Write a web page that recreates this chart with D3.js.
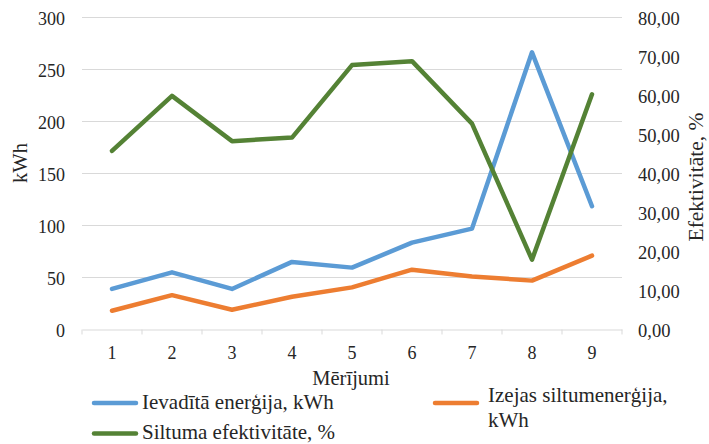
<!DOCTYPE html>
<html>
<head>
<meta charset="utf-8">
<script src="https://cdn.jsdelivr.net/npm/d3@7"></script>
<style>
  body { margin: 0; background: #fff; }
  svg text { font-family: "Liberation Serif", "Times New Roman", Times, "DejaVu Serif", serif !important; fill: #262626; }
</style>
</head>
<body>
<svg id="chart" width="709" height="444"></svg>
<script>
// data
const categories = ["1", "2", "3", "4", "5", "6", "7", "8", "9"];
const inputEnergy = [39, 55, 39, 65, 59.5, 83.5, 97, 266.5, 118.5];
const outputHeat = [18, 33, 19, 31.5, 40.5, 57.5, 51, 47, 71];
const efficiency = [45.8, 59.9, 48.3, 49.2, 67.8, 68.8, 52.8, 17.9, 60.3];

const leftTicks = [0, 50, 100, 150, 200, 250, 300];
const rightTicks = [0, 10, 20, 30, 40, 50, 60, 70, 80];

const seriesNames = ["Ievadītā enerģija, kWh", "Izejas siltumenerģija, kWh", "Siltuma efektivitāte, %"];
const colors = ["#5b9bd5", "#ed7d31", "#548235"];

// plot area
const plotLeft = 82, plotRight = 622, plotTop = 17.5, plotBottom = 329.5;

const svg = d3.select("#chart");

const x = d3.scaleBand().domain(categories).range([plotLeft, plotRight]);
const yL = d3.scaleLinear().domain([0, 300]).range([plotBottom, plotTop]);
const yR = d3.scaleLinear().domain([0, 80]).range([plotBottom, plotTop]);

// gridlines
svg.append("g")
    .selectAll("line")
    .data(leftTicks.slice(1))
    .join("line")
      .attr("x1", plotLeft).attr("x2", plotRight)
      .attr("y1", d => yL(d)).attr("y2", d => yL(d))
      .attr("stroke", "#d9d9d9").attr("stroke-width", 1);

// x axis
const xAxis = svg.append("g")
    .attr("transform", `translate(0,${plotBottom})`)
    .call(d3.axisBottom(x).tickSize(0).tickPadding(17));
xAxis.select(".domain").attr("stroke", "#d9d9d9");
xAxis.selectAll("text").attr("font-size", 18);

// tick marks between categories
svg.append("g")
    .selectAll("line")
    .data(d3.range(categories.length + 1))
    .join("line")
      .attr("x1", i => plotLeft + i * x.step()).attr("x2", i => plotLeft + i * x.step())
      .attr("y1", plotBottom).attr("y2", plotBottom + 5)
      .attr("stroke", "#d9d9d9");

// left axis
const leftAxis = svg.append("g")
    .attr("transform", `translate(${plotLeft},0)`)
    .call(d3.axisLeft(yL).tickValues(leftTicks).tickSize(0).tickPadding(17));
leftAxis.select(".domain").remove();
leftAxis.selectAll("text").attr("font-size", 18).attr("dy", "0.38em");

// right axis
const rightAxis = svg.append("g")
    .attr("transform", `translate(${plotRight},0)`)
    .call(d3.axisRight(yR).tickValues(rightTicks).tickSize(0).tickPadding(16)
      .tickFormat(d => d3.format(".2f")(d).replace(".", ",")));
rightAxis.select(".domain").remove();
rightAxis.selectAll("text").attr("font-size", 18.5).attr("dy", "0.4em");

// axis titles
svg.append("text")
    .attr("transform", "translate(27,163) rotate(-90)")
    .attr("text-anchor", "middle").attr("font-size", 20.5).text("kWh");
svg.append("text")
    .attr("transform", "translate(703,177) rotate(-90)")
    .attr("text-anchor", "middle").attr("font-size", 21.5).text("Efektivitāte, %");
svg.append("text")
    .attr("x", 351).attr("y", 385)
    .attr("text-anchor", "middle").attr("font-size", 20.5).text("Mērījumi");

// lines
const lineL = d3.line().x((d, i) => x(categories[i]) + x.bandwidth() / 2).y(d => yL(d));
const lineR = d3.line().x((d, i) => x(categories[i]) + x.bandwidth() / 2).y(d => yR(d));

const series = [
  { values: inputEnergy, line: lineL, color: colors[0] },
  { values: outputHeat, line: lineL, color: colors[1] },
  { values: efficiency, line: lineR, color: colors[2] }
];

svg.append("g")
    .selectAll("path")
    .data(series)
    .join("path")
      .attr("d", d => d.line(d.values))
      .attr("fill", "none")
      .attr("stroke", d => d.color)
      .attr("stroke-width", 4.5)
      .attr("stroke-linejoin", "round")
      .attr("stroke-linecap", "round");

// legend
const legend = [
  { x: 94, y: 403, tx: 142, ty: 408.5, lines: [seriesNames[0]], color: colors[0] },
  { x: 435, y: 403, tx: 488, ty: 402, lines: ["Izejas siltumenerģija,", "kWh"], color: colors[1] },
  { x: 94, y: 433.5, tx: 142, ty: 439, lines: [seriesNames[2]], color: colors[2] }
];

const lg = svg.append("g").selectAll("g").data(legend).join("g");
lg.append("line")
    .attr("x1", d => d.x).attr("x2", d => d.x + 42)
    .attr("y1", d => d.y).attr("y2", d => d.y)
    .attr("stroke", d => d.color).attr("stroke-width", 4.5)
    .attr("stroke-linecap", "round");
lg.append("text")
    .attr("x", d => d.tx)
    .attr("y", d => d.ty)
    .attr("font-size", 21)
    .selectAll("tspan")
    .data(d => d.lines.map(t => ({ t, x: d.tx })))
    .join("tspan")
      .attr("x", d => d.x)
      .attr("dy", (d, i) => i ? 24.7 : 0)
      .text(d => d.t);
</script>
</body>
</html>
